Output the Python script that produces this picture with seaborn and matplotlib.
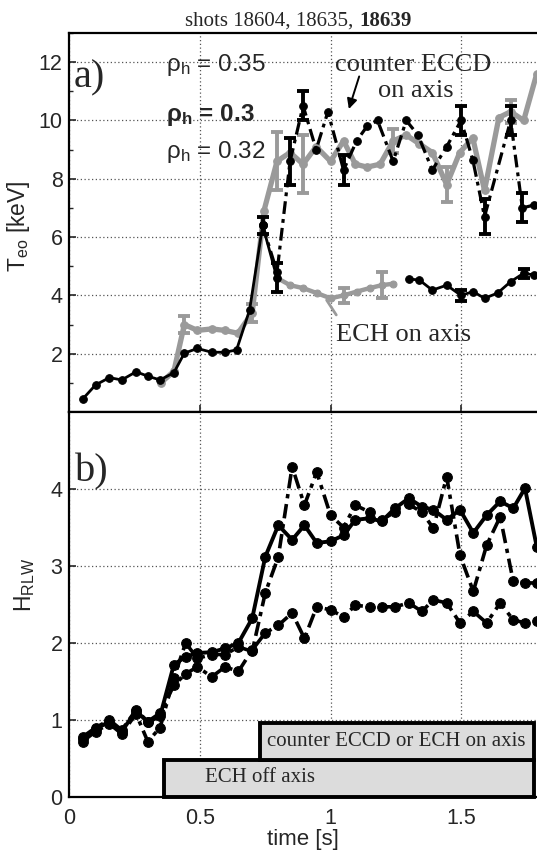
import numpy as np
import pandas as pd
import matplotlib
matplotlib.use("Agg")
import matplotlib.pyplot as plt
import seaborn as sns
from matplotlib.patches import Rectangle
from matplotlib.ticker import MultipleLocator

# ---------------- data ----------------
# panel a) Te0 [keV]
# shared early phase (black, solid)
te_t_base = [0.05, 0.10, 0.153, 0.20, 0.255, 0.30, 0.347, 0.40, 0.44, 0.49, 0.545, 0.596, 0.64, 0.69, 0.74]
te_base = [0.44, 0.93, 1.18, 1.10, 1.38, 1.23, 1.10, 1.35, 2.02, 2.18, 2.05, 2.05, 2.13, 3.5, 6.4]

# rho_h = 0.35 (grey, counter ECCD)
te_t_grey = [0.35, 0.40, 0.44, 0.49, 0.545, 0.595, 0.645, 0.70, 0.745, 0.795, 0.845, 0.895, 0.945,
             1.0, 1.05, 1.095, 1.14, 1.19, 1.24, 1.29, 1.34, 1.39, 1.445, 1.495, 1.545, 1.59,
             1.645, 1.69, 1.74, 1.79]
te_grey = [1.0, 1.4, 3.0, 2.8, 2.85, 2.8, 2.7, 3.4, 6.9, 8.6, 8.9, 8.5, 9.1,
           8.6, 9.3, 8.5, 8.4, 8.5, 9.3, 9.5, 9.2, 8.9, 7.8, 8.9, 9.4, 7.6,
           10.1, 10.3, 10.0, 11.6]
te_grey_err = [0, 0, 0.3, 0, 0, 0, 0, 0.3, 0, 1.0, 0, 1.0, 0,
               0, 0, 0, 0, 0, 0.4, 0, 0, 0, 0.6, 0, 0, 0,
               0, 0.4, 0, 0]

# rho_h = 0.3 (black dash-dot, counter ECCD, shot 18639)
te_t_ccd = [0.74, 0.795, 0.845, 0.895, 0.945, 0.99, 1.05, 1.10, 1.14, 1.18, 1.24, 1.29, 1.335,
            1.39, 1.445, 1.50, 1.545, 1.59, 1.69, 1.735, 1.78]
te_ccd = [6.4, 4.8, 8.6, 10.5, 9.0, 10.3, 8.3, 9.3, 9.8, 10.0, 8.6, 10.0, 9.5,
          8.3, 9.1, 10.0, 8.65, 6.7, 10.0, 7.0, 7.1]
te_ccd_err = [0.3, 0, 0.8, 0.5, 0, 0, 0.5, 0, 0, 0, 0, 0, 0,
              0, 0, 0.5, 0, 0.6, 0.5, 0.5, 0]

# rho_h = 0.32 (ECH on axis)
te_t_ech = [0.74, 0.795, 0.845, 0.895, 0.947, 1.0, 1.05, 1.10, 1.15, 1.196, 1.24,
            1.30, 1.34, 1.39, 1.445, 1.50, 1.546, 1.59, 1.64, 1.69, 1.74, 1.78]
te_ech = [6.4, 4.6, 4.35, 4.25, 4.08, 3.9, 4.0, 4.13, 4.25, 4.35, 4.4,
          4.56, 4.53, 4.18, 4.35, 4.0, 4.13, 3.9, 4.08, 4.47, 4.76, 4.7]
te_ech_err = [0, 0.5, 0, 0, 0, 0, 0.25, 0, 0, 0.45, 0,
              0, 0, 0, 0, 0.2, 0, 0, 0, 0, 0.15, 0]

# panel b) H_RLW
h_t = [0.05, 0.10, 0.153, 0.20, 0.255, 0.30, 0.347, 0.40, 0.445, 0.49, 0.545, 0.596, 0.647,
       0.70, 0.75, 0.80, 0.853, 0.90, 0.947, 1.0, 1.05, 1.095, 1.15, 1.196, 1.247, 1.30,
       1.35, 1.394, 1.445, 1.496, 1.547, 1.598, 1.65, 1.70, 1.745, 1.79]
h_solid = [0.75, 0.88, 0.98, 0.85, 1.12, 0.97, 1.05, 1.72, 1.82, 1.87, 1.88, 1.93, 2.0,
           2.32, 3.12, 3.53, 3.34, 3.53, 3.3, 3.32, 3.4, 3.6, 3.62, 3.58, 3.75, 3.88,
           3.77, 3.73, 3.6, 3.73, 3.43, 3.66, 3.84, 3.75, 4.01, 3.25]
h_ccd = [0.72, 0.85, 0.95, 0.82, 1.08, 0.72, 0.9, 1.55, 2.0, 1.8, 1.85, 1.85, 1.95,
         1.89, 2.65, 3.12, 4.29, 3.79, 4.22, 3.66, 3.5, 3.79, 3.7, 3.6, 3.7, 3.8,
         3.7, 3.49, 4.16, 3.14, 2.67, 3.27, 3.64, 2.8, 2.78, 2.78]
h_ech = [0.78, 0.9, 1.0, 0.87, 1.13, 0.98, 1.09, 1.45, 1.6, 1.69, 1.56, 1.69, 1.63,
         1.91, 2.13, 2.23, 2.39, 2.06, 2.47, 2.43, 2.34, 2.49, 2.47, 2.47, 2.47, 2.52,
         2.41, 2.56, 2.52, 2.26, 2.41, 2.26, 2.52, 2.3, 2.26, 2.28]

# heating phases (start, end, label)
phase_labels = ["ECH off axis", "counter ECCD or ECH on axis"]
phase_start = [0.361, 0.73]
phase_end = [1.78, 1.78]

rho_labels = ["0.35", "0.3", "0.32"]
title_shots = ["18604", "18635", "18639"]

# ---------------- style ----------------
sns.set_style("white")
plt.rcParams["font.family"] = ["Liberation Sans", "DejaVu Sans"]
plt.rcParams["mathtext.fontset"] = "custom"
plt.rcParams["mathtext.rm"] = "Liberation Sans"
plt.rcParams["mathtext.bf"] = "Liberation Sans:bold"
plt.rcParams["mathtext.it"] = "Liberation Sans:italic"
SERIF = "Liberation Serif"
GREY = "#9a9a9a"

fig = plt.figure(figsize=(5.37, 8.52), dpi=100)
ax1 = fig.add_axes([0.1294, 0.5164, 0.8706, 0.4449])
ax2 = fig.add_axes([0.1294, 0.0646, 0.8706, 0.4518])

dash = (0, (4, 1.6, 1.2, 1.6))


def line(ax, t, y, color, lw, ms, ls="-", z=3):
    df = pd.DataFrame({"t": t, "y": y})
    sns.lineplot(data=df, x="t", y="y", ax=ax, color=color, lw=lw, marker="o",
                 markersize=ms, mec=color, mfc=color, linestyle=ls, sort=False,
                 estimator=None, legend=False, zorder=z)


def ebar(ax, t, y, e, color, z=3):
    t, y, e = np.asarray(t), np.asarray(y), np.asarray(e)
    m = e > 0
    ax.errorbar(t[m], y[m], yerr=e[m], fmt="none", ecolor=color, elinewidth=2.8,
                capsize=4, capthick=2.8, zorder=z)


# ---- panel a ----
line(ax1, te_t_grey, te_grey, GREY, 3.8, 5.5, z=2)
ebar(ax1, te_t_grey, te_grey, te_grey_err, GREY, z=2)
line(ax1, te_t_base, te_base, "black", 2.0, 5.5, z=3)
line(ax1, te_t_ccd, te_ccd, "black", 2.3, 5.5, ls=dash, z=4)
ebar(ax1, te_t_ccd, te_ccd, te_ccd_err, "black", z=4)

ech_t = np.asarray(te_t_ech)
ech_y = np.asarray(te_ech)
ech_e = np.asarray(te_ech_err)
seg_black1 = ech_t <= 0.80
seg_grey = (ech_t >= 0.79) & (ech_t <= 1.25)
seg_black2 = ech_t >= 1.29
line(ax1, ech_t[seg_grey], ech_y[seg_grey], GREY, 3.2, 5, z=2)
line(ax1, ech_t[seg_black1], ech_y[seg_black1], "black", 2.0, 5.5, z=3)
line(ax1, ech_t[seg_black2], ech_y[seg_black2], "black", 2.0, 5.5, z=3)
ebar(ax1, ech_t[seg_grey & (ech_t > 0.8)], ech_y[seg_grey & (ech_t > 0.8)],
     ech_e[seg_grey & (ech_t > 0.8)], GREY, z=2)
ebar(ax1, ech_t[seg_black1], ech_y[seg_black1], ech_e[seg_black1], "black", z=3)
ebar(ax1, ech_t[seg_black2], ech_y[seg_black2], ech_e[seg_black2], "black", z=3)

ax1.text(0.017, 11.45, "a)", fontfamily=SERIF, fontsize=29, va="center", ha="left")
ax1.text(0.37, 11.9, "ρ$_\\mathregular{h}$ = " + rho_labels[0], fontsize=17.5, va="center")
ax1.text(0.37, 10.2, "ρ$_\\mathbf{h}$ = " + rho_labels[1], fontsize=17.5, va="center",
         fontweight="bold")
ax1.text(0.37, 8.92, "ρ$_\\mathregular{h}$ = " + rho_labels[2], fontsize=17.5, va="center")
ax1.text(1.019, 11.9, "counter ECCD", fontfamily=SERIF, fontsize=19, va="center")
ax1.text(1.182, 11.0, "on axis", fontfamily=SERIF, fontsize=19, va="center")
ax1.annotate("", xy=(1.067, 10.3), xytext=(1.113, 11.6),
             arrowprops=dict(arrowstyle="-|>", color="black", lw=1.4, mutation_scale=15))
ax1.text(1.021, 2.64, "ECH on axis", fontfamily=SERIF, fontsize=19, va="center")
ax1.plot([1.022, 0.985], [3.33, 3.84], color=GREY, lw=2.0)

ax1.set_xlim(0, 1.791)
ax1.set_ylim(0, 13)
ax1.set_yticks([2, 4, 6, 8, 10, 12])
ax1.yaxis.set_minor_locator(MultipleLocator(1))
ax1.set_xticks([0, 0.5, 1, 1.5])
ax1.set_xticklabels([])
ax1.set_xlabel("")
ax1.set_ylabel("T$_\\mathregular{eo}$ [keV]", fontsize=16.5)
ax1.yaxis.set_label_coords(-0.08, 0.49)

# ---- panel b ----
line(ax2, h_t, h_solid, "black", 2.8, 7, z=4)
line(ax2, h_t, h_ccd, "black", 2.6, 7, ls=dash, z=3)
line(ax2, h_t, h_ech, "black", 2.6, 7, ls=dash, z=3)

ax2.text(0.021, 4.22, "b)", fontfamily=SERIF, fontsize=29, va="center", ha="left")

box_y = [(0.0, 0.475), (0.475, 0.965)]
for (y0, y1), s, e, lab in zip(box_y, phase_start, phase_end, phase_labels):
    ax2.add_patch(Rectangle((s, y0), e - s, y1 - y0, facecolor="#dcdcdc",
                            edgecolor="black", lw=2.8, zorder=6, clip_on=False))
ax2.text(0.521, 0.25, phase_labels[0], fontfamily=SERIF, fontsize=15, va="center", zorder=7)
ax2.text(0.757, 0.72, phase_labels[1], fontfamily=SERIF, fontsize=15, va="center", zorder=7)

ax2.set_xlim(0, 1.791)
ax2.set_ylim(0, 5)
ax2.set_yticks([0, 1, 2, 3, 4])
ax2.set_xticks([0, 0.5, 1, 1.5])
ax2.set_xticklabels(["0", "0.5", "1", "1.5"])
ax2.set_xlabel("time [s]", fontsize=16, labelpad=0)
ax2.set_ylabel("H$_\\mathregular{RLW}$", fontsize=16.5)
ax2.yaxis.set_label_coords(-0.07, 0.55)

for ax in (ax1, ax2):
    ax.grid(True, which="major", linestyle=(0, (1, 2)), color="#555555", lw=0.9)
    ax.tick_params(axis="both", which="major", direction="in", length=5, width=1.2,
                   labelsize=15.5, pad=5, left=True, bottom=True)
    ax.tick_params(axis="x", which="major", pad=8)
    ax.tick_params(axis="y", which="minor", direction="in", length=3, width=1, left=True)
    for sp in ("left", "bottom", "top"):
        ax.spines[sp].set_color("black")
        ax.spines[sp].set_linewidth(1.6)
        ax.spines[sp].set_visible(True)
    ax.spines["right"].set_visible(False)
    ax.set_axisbelow(True)

# title with bold last shot
t1 = fig.text(0.345, 0.975, "shots " + title_shots[0] + ", " + title_shots[1] + ", ",
              fontfamily=SERIF, fontsize=15, va="center", ha="left")
ax1.annotate(title_shots[2], xy=(1, 0.5), xycoords=t1, va="center", ha="left",
             fontfamily=SERIF, fontsize=15, fontweight="bold", annotation_clip=False)

fig.savefig("out.png", dpi=100)
